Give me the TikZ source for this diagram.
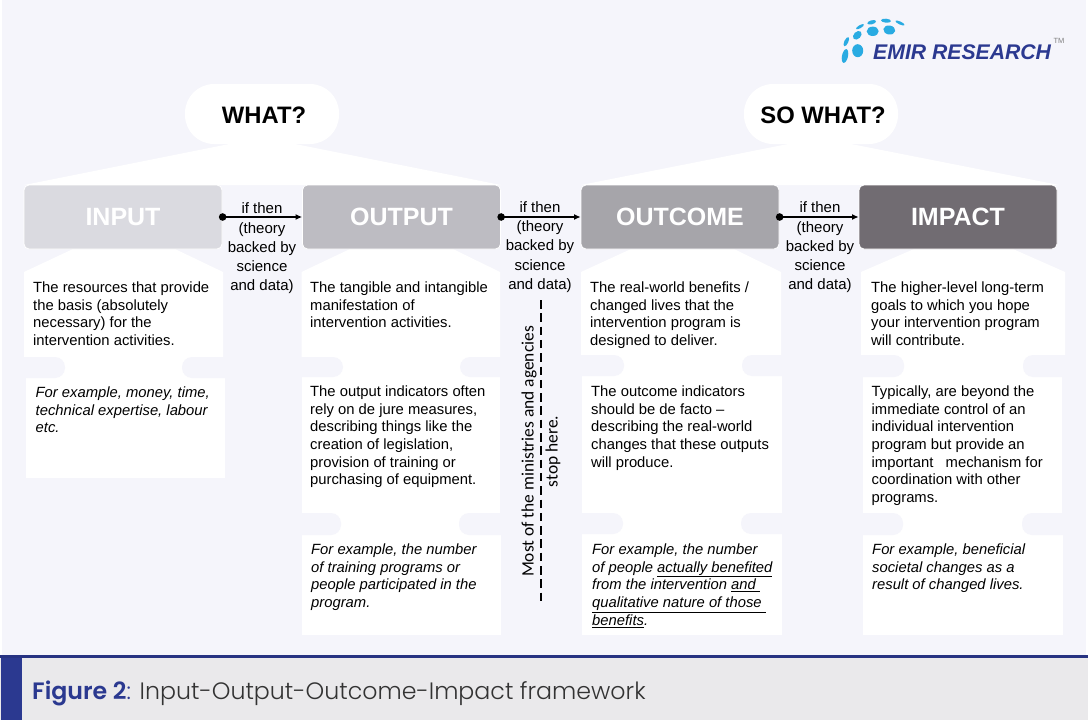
\documentclass[tikz,border=0pt]{standalone}
\usepackage{fontspec}
\setmainfont{Liberation Sans}
\newfontfamily\notefont{Carlito}
\newfontfamily\capfont{Poppins Light}
\newfontfamily\capboldfont{Poppins SemiBold}
\usetikzlibrary{arrows.meta, positioning}
\definecolor{pagebg}{HTML}{F5F5FB}
\definecolor{bandbg}{HTML}{EAE9EB}
\definecolor{navy}{HTML}{2B3990}
\definecolor{logoblue}{HTML}{29ABE2}
\definecolor{inputc}{HTML}{DADAE0}
\definecolor{outputc}{HTML}{BDBCC2}
\definecolor{outcomec}{HTML}{A6A5AA}
\definecolor{impactc}{HTML}{716C72}
\tikzset{
  stagebox/.style={draw=white,line width=0.8pt,rounded corners=5pt,minimum width=198pt,minimum height=64pt,inner sep=0pt,text=white,font=\fontsize{25}{25}\selectfont\bfseries},
  pill/.style={fill=white,rounded corners=29pt,minimum width=154pt,minimum height=60pt,inner sep=0pt},
  ifthen/.style={align=center,inner sep=0pt,font=\fontsize{15}{19.2}\selectfont},
  bodytext/.style={anchor=north west,align=left,inner sep=0pt,font=\fontsize{14.8}{17.7}\selectfont},
  example/.style={bodytext,font=\fontsize{14.8}{17.7}\selectfont\itshape},
  question/.style={inner sep=0pt,font=\fontsize{23.8}{24}\selectfont\bfseries},
  link/.style={line width=1.3pt,shorten <=-3.5pt,{Circle[length=7.5pt]}-{Latex[length=6.5pt,width=6pt]}},
  tab/.style={fill=pagebg,rounded corners=10pt},
  logodot/.style={fill=logoblue},
}
\begin{document}
\begin{tikzpicture}[x=1pt,y=-1pt]
  \useasboundingbox (0,0) rectangle (1088,720);
  \fill[white] (0,0) rectangle (1088,720);
  \fill[pagebg] (2,0) rectangle (1086,655);
  % caption band
  \fill[bandbg] (0,658) rectangle (1088,720);
  \fill[navy!90!black] (0,655) rectangle (1088,658);
  \fill[navy] (1,658) rectangle (22,720);
  % fans under the questions
  \fill[white] (229,144) -- (295,144) -- (501,185) -- (24,185) -- cycle;
  \fill[white] (788,144) -- (851,144) -- (1059,185) -- (581,185) -- cycle;
  % white columns
  \fill[white] (73,249) -- (175,249) -- (223,272) -- (223,378) -- (24,378) -- (24,272) -- cycle;
  \fill[white] (26,378) rectangle (225,478);
  \fill[white] (350,249) -- (453,249) -- (500,272) -- (500,377) -- (301.5,377) -- (301.5,272) -- cycle;
  \fill[white] (301.5,377) rectangle (500,535);
  \fill[white] (302,535) rectangle (500.5,635);
  \fill[white] (631,249) -- (734,249) -- (781,272) -- (781,376) -- (581,376) -- (581,272) -- cycle;
  \fill[white] (582,376) rectangle (782,635);
  \fill[white] (914,249) -- (1013,249) -- (1065,272) -- (1065,377) -- (861,377) -- (861,272) -- cycle;
  \fill[white] (862.5,377) rectangle (1062,535);
  \fill[white] (863,535) rectangle (1063,635);
  % notches between the white blocks
  \foreach \xa/\xb/\ya/\yb in {10/65/357/378,182/240/357/378,
    285/343/357/377,460/515/357/377,285/341/513/535,459/515/513/535,
    565/624/355/376,742/795/355/376,565/623/513/534,741/795/513/534,
    845/904/355/377,1023/1080/355/377,845/903/513/535,1022/1080/513/535}
    \fill[tab] (\xa,\ya) rectangle (\xb,\yb);
  % questions
  \node[pill] (what) at (262,114) {};
  \node[pill] (sowhat) at (821,114) {};
  \node[question] (whattext) at (264,115) {WHAT?};
  \node[question] (sowhattext) at (823,115) {SO WHAT?};
  % stages
  \node[stagebox,fill=inputc] (input) at (123,217) {INPUT};
  \node[stagebox,fill=outputc] (output) at (401.5,217) {OUTPUT};
  \node[stagebox,fill=outcomec] (outcome) at (680,217) {OUTCOME};
  \node[stagebox,fill=impactc] (impact) at (958,217) {IMPACT};
  \draw[link] (input.east) -- (output.west);
  \draw[link] (output.east) -- (outcome.west);
  \draw[link] (outcome.east) -- (impact.west);
  \node[ifthen] (ifa) at (262,248.5) {if then\\(theory\\backed by\\science\\and data)};
  \node[ifthen] (ifb) at (540,247) {if then\\(theory\\backed by\\science\\and data)};
  \node[ifthen] (ifc) at (820,247.5) {if then\\(theory\\backed by\\science\\and data)};
  % first row
  \node[bodytext] (inputa) at (33,281.5) {The resources that provide\\the basis (absolutely\\necessary) for the\\intervention activities.};
  \node[bodytext] (outputa) at (310,281.5) {The tangible and intangible\\manifestation of\\intervention activities.};
  \node[bodytext] (outcomea) at (590,281.5) {The real-world benefits /\\changed lives that the\\intervention program is\\designed to deliver.};
  \node[bodytext] (impacta) at (871,281.5) {The higher-level long-term\\goals to which you hope\\your intervention program\\will contribute.};
  % second row
  \node[example] (inputb) at (35.5,386.5) {For example, money, time,\\technical expertise, labour\\etc.};
  \node[bodytext] (outputb) at (310,385.5) {The output indicators often\\rely on de jure measures,\\describing things like the\\creation of legislation,\\provision of training or\\purchasing of equipment.};
  \node[bodytext] (outcomeb) at (591,385.5) {The outcome indicators\\should be de facto --\\describing the real-world\\changes that these outputs\\will produce.};
  \node[bodytext] (impactb) at (871.5,385.5) {Typically, are beyond the\\immediate control of an\\individual intervention\\program but provide an\\important\ \ \ mechanism for\\coordination with other\\programs.};
  % third row
  \node[example] (outputc) at (311,543.5) {For example, the number\\of training programs or\\people participated in the\\program.};
  \node[example] (outcomec) at (592,543.5) {For example, the number\\of people \underline{actually benefited}\\from the intervention \underline{and\ }\\\underline{qualitative nature of those\ }\\\underline{benefits}.};
  \node[example] (impactc) at (872,543.5) {For example, beneficial\\societal changes as a\\result of changed lives.};
  % stop line
  \coordinate (stoptop) at (541,300);
  \coordinate (stopbot) at (541,604);
  \draw[line width=1.6pt,dash pattern=on 8.5pt off 4.8pt] (stoptop) -- (stopbot);
  \node[rotate=90,align=center,inner sep=0pt,font=\notefont\fontsize{17.4}{24}\selectfont] (stopnote) at (541,451.5) {Most of the ministries and agencies\\stop here.};
  % logo
  \foreach \cx/\cy/\rx/\ry/\ang in {857.7/50.7/5.5/6.5/0,872.7/31.3/6/4.7/0,889.3/30/6/4.5/-10,857.3/35.3/5/3.5/45,
    845/56/3/7/-12,846.3/41.7/2/5/-25,860/26.7/4.5/1.5/30,871.7/22.3/4.5/2/15,886/20.7/5/2/-5,900/23/5/1.5/-25}
    \fill[logodot,rotate around={\ang:(\cx,\cy)}] (\cx,\cy) ellipse [x radius=\rx,y radius=\ry];
  \node[anchor=west,inner sep=0pt,text=navy,font=\fontsize{21.2}{21}\selectfont\bfseries\itshape] (logotext) at (873,52) {EMIR RESEARCH};
  \node[inner sep=0pt,text=gray,font=\fontsize{7.5}{8}\selectfont] (logotm) at (1059,41) {TM};
  % caption
  \node[anchor=base west,inner sep=0pt,text=black!80,font=\fontsize{23.7}{24}\selectfont] (caption) at (32,699) {\textcolor{navy}{\capboldfont Figure 2}\textcolor{navy}{\capfont:} {\capfont Input-Output-Outcome-Impact framework}};
\end{tikzpicture}
\end{document}
